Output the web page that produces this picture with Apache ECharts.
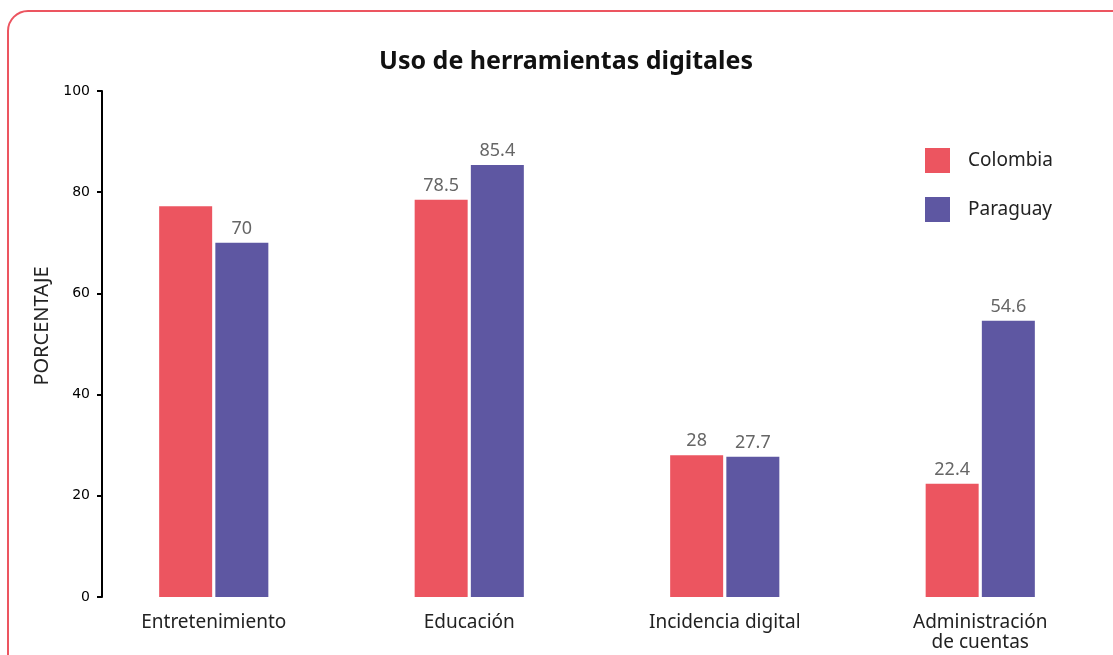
<!DOCTYPE html>
<html>
<head>
<meta charset="utf-8">
<script src="https://cdn.jsdelivr.net/npm/echarts@6/dist/echarts.min.js"></script>
<style>
  html, body { margin: 0; padding: 0; background: #fff; }
  #main { width: 1113px; height: 655px; }
</style>
</head>
<body>
<div id="main"></div>
<script>
var categories = ['Entretenimiento', 'Educación', 'Incidencia digital', 'Administración\nde cuentas'];
var colombia = [77.2, 78.5, 28, 22.4];
var paraguay = [70, 85.4, 27.7, 54.6];
var colombiaHiddenLabel = [0];
var yTicks = [0, 20, 40, 60, 80, 100];

var chart = echarts.init(document.getElementById('main'));

function withLabels(values, hidden) {
    return values.map(function (v, i) {
        if (hidden.indexOf(i) >= 0) {
            return { value: v, label: { show: false } };
        }
        return v;
    });
}

var option = {
    animation: false,
    textStyle: { fontFamily: 'Noto Sans' },
    graphic: [{
        type: 'rect',
        shape: { x: 8, y: 11, width: 1140, height: 700, r: 20 },
        style: { fill: 'none', stroke: '#EC5560', lineWidth: 2 },
        silent: true
    }],
    title: {
        text: 'Uso de herramientas digitales',
        left: 374,
        top: 44,
        textStyle: { fontSize: 25, fontWeight: 'bold', color: '#111', fontFamily: 'Noto Sans' }
    },
    legend: {
        orient: 'vertical',
        left: 920,
        top: 143,
        icon: 'rect',
        itemWidth: 25,
        itemHeight: 25,
        itemGap: 24,
        textStyle: { fontSize: 19, color: '#222', padding: [0, 0, 0, 13] },
        data: ['Colombia', 'Paraguay']
    },
    grid: { left: 86, right: 5, top: 91, bottom: 58, containLabel: false },
    xAxis: {
        type: 'category',
        data: categories,
        axisLine: { show: false },
        axisTick: { show: false },
        axisLabel: { fontSize: 19, color: '#222', margin: 16, lineHeight: 20 }
    },
    yAxis: {
        type: 'value',
        min: yTicks[0],
        max: yTicks[yTicks.length - 1],
        interval: 20,
        offset: -16,
        name: 'PORCENTAJE',
        nameLocation: 'middle',
        nameGap: 50,
        nameTextStyle: { fontSize: 20, color: '#222', fontFamily: 'Noto Sans', padding: [0, 0, 0, 36] },
        axisLine: { show: true, lineStyle: { color: '#000', width: 2 } },
        axisTick: { show: true, length: 5, lineStyle: { color: '#000', width: 2 } },
        axisLabel: { fontSize: 14, color: '#000', margin: 12, fontFamily: 'DejaVu Sans' },
        splitLine: { show: false }
    },
    series: [{
        name: 'Colombia',
        type: 'bar',
        barWidth: 53,
        barGap: '6%',
        itemStyle: { color: '#EC5560' },
        label: { show: true, position: 'top', distance: 5, fontSize: 18, color: '#666' },
        data: withLabels(colombia, colombiaHiddenLabel)
    }, {
        name: 'Paraguay',
        type: 'bar',
        barWidth: 53,
        barGap: '6%',
        itemStyle: { color: '#5E57A2' },
        label: { show: true, position: 'top', distance: 5, fontSize: 18, color: '#666' },
        data: withLabels(paraguay, [])
    }]
};

chart.setOption(option);
</script>
</body>
</html>
